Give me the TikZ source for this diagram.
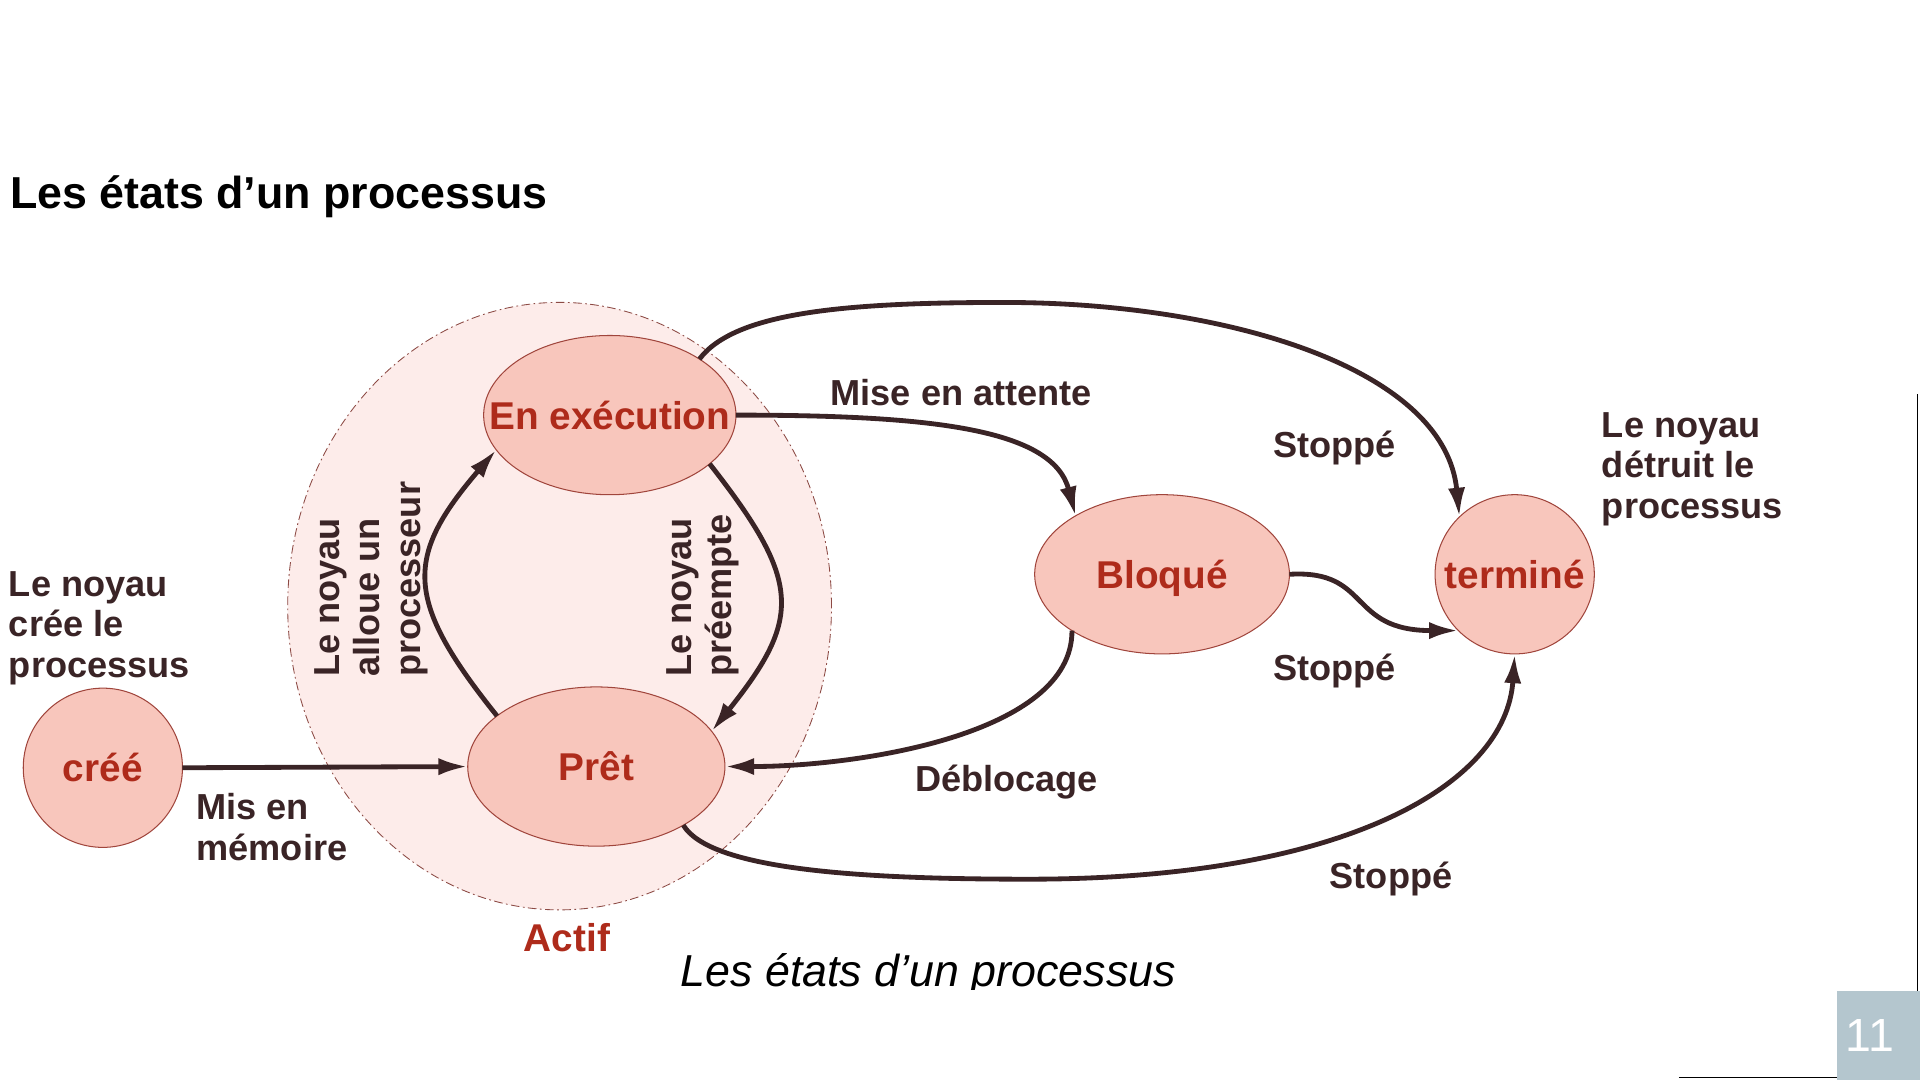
\documentclass[tikz,border=0pt]{standalone}
\usepackage{fontspec}
\setmainfont{Liberation Sans}
\usetikzlibrary{shapes.geometric,arrows.meta,positioning}
\definecolor{etatfond}{HTML}{F8C6BC}
\definecolor{etatbord}{HTML}{A0453C}
\definecolor{etattexte}{HTML}{AE2B1B}
\definecolor{actiffond}{HTML}{FDECEA}
\definecolor{actifbord}{HTML}{8C4A44}
\definecolor{encre}{HTML}{3A2426}
\definecolor{numfond}{HTML}{B4C6CE}

\begin{document}
\begin{tikzpicture}[x=0.025cm, y=-0.025cm,
		etat/.style={ellipse, draw=etatbord, line width=0.6pt, fill=etatfond, inner xsep=-20pt, inner ysep=0pt, outer sep=0pt, text=etattexte, font=\fontsize{22.5}{25}\selectfont\bfseries},
		lbl/.style={text=encre, font=\fontsize{21}{23.5}\selectfont\bfseries, align=left, inner sep=0pt},
		fl/.style={draw=encre, line width=2.8pt, -{Latex[length=17pt,width=10pt]}}]
		\useasboundingbox (0,0) rectangle (1568,882);

		\node[anchor=base west, inner sep=0pt, font=\fontsize{26}{28}\selectfont\bfseries] (titre) at (8,170) {Les états d’un processus};

		\node[ellipse, fill=actiffond, draw=actifbord, line width=0.5pt, dash pattern=on 5pt off 2pt on 1pt off 2pt, minimum width=11.1cm, minimum height=12.4cm] (actif) at (457,495) {};
		\node[lbl, text=etattexte, font=\fontsize{22.5}{25}\selectfont\bfseries] (actiflbl) at (463,766) {Actif};

		\node[etat, minimum width=5.15cm, minimum height=3.25cm] (exec) at (498,339) {En exécution};
		\node[etat, minimum width=5.25cm, minimum height=3.25cm] (pret) at (487,626) {Prêt};
		\node[etat, minimum width=5.2cm, minimum height=3.25cm] (bloque) at (949,469) {\raisebox{-2.5pt}[\height][\depth]{Bloqué}};
		\node[etat, minimum size=3.25cm] (termine) at (1237,469) {terminé};
		\node[etat, minimum size=3.25cm] (cree) at (84,627) {créé};

		\node[lbl, anchor=west] (creeinfo) at (7,513) {Le noyau\\crée le\\processus};
		\node[lbl, below right=0.52cm and 0.28cm of cree.east] (memoire) {Mis en\\mémoire};
		\node[lbl, anchor=west] (detruit) at (1308,383) {Le noyau\\détruit le\\processus};
		\node[lbl, rotate=90, anchor=west] (alloue) at (303,553) {Le noyau\\alloue un\\processeur};
		\node[lbl, rotate=90, anchor=west] (preempte) at (574,553) {Le noyau\\préempte};
		\node[lbl] (attente) at (785,321) {Mise en attente};
		\node[lbl] (stop1) at (1090,366) {Stoppé};
		\node[lbl] (stop2) at (1090,548) {Stoppé};
		\node[lbl] (stop3) at (1136,718) {Stoppé};
		\node[lbl] (deblocage) at (822,639) {Déblocage};

		\draw[fl] (cree.east) -- (pret.west);
		\draw[fl] (pret.153) .. controls (330,490) and (330,455) .. (exec.197);
		\draw[fl] (exec.-26) .. controls (655,475) and (655,505) .. (pret.17);
		\draw[fl] (exec.east) .. controls (760,339) and (860,350) .. (bloque.146);
		\draw[fl] (exec.32) .. controls (600,255) and (690,247) .. (820,247) .. controls (1000,247) and (1180,300) .. (termine.134);
		\draw[fl] (bloque.east) .. controls (1120,465) and (1100,515) .. (termine.225);
		\draw[fl] (bloque.212) .. controls (876,600) and (700,626) .. (pret.east);
		\draw[fl] (pret.-34) .. controls (580,710) and (700,718) .. (840,718) .. controls (1100,718) and (1230,640) .. (termine.south);

		\begin{scope}
			\clip (0,0) rectangle (1568,808);
			\node[anchor=base, inner sep=0pt, font=\fontsize{26}{28}\selectfont\itshape] (legende) at (758,806) {Les états d’un processus};
		\end{scope}

		\draw[line width=0.7pt] (1566,322) -- (1566,809);
		\draw[line width=0.7pt] (1371,880) -- (1500,880);
		\fill[numfond] (1500,809) rectangle (1568,882);
		\node[text=white, font=\fontsize{27}{27}\selectfont] (num) at (1527,846) {11};
	\end{tikzpicture}
\end{document}
